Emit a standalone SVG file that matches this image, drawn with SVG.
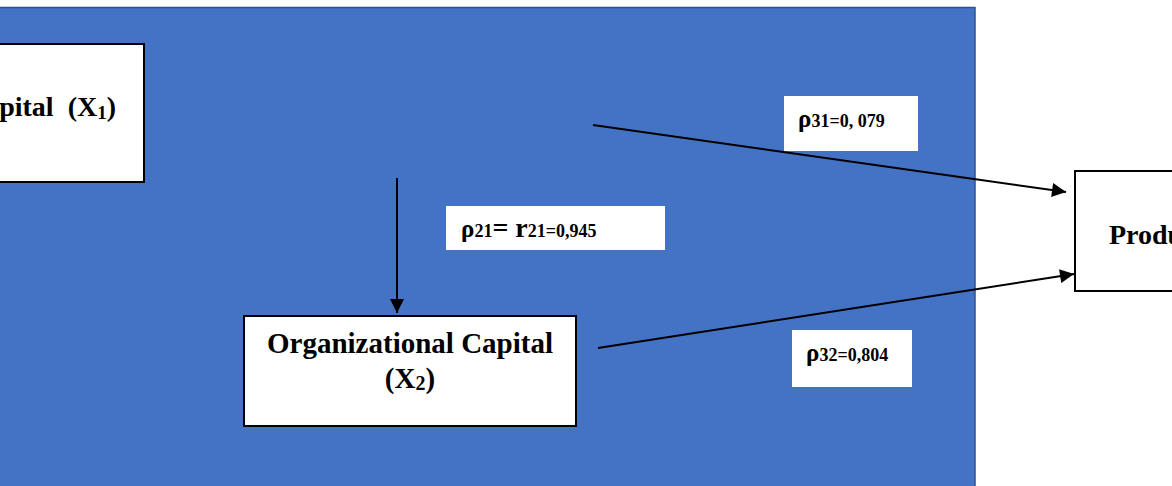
<svg xmlns="http://www.w3.org/2000/svg" width="1172" height="486" viewBox="0 0 1172 486">
  <style>
    .panel { fill: #4472C4; stroke: #2F528F; stroke-width: 1.5; }
    .node { fill: #FFFFFF; stroke: #000000; stroke-width: 2; }
    .tag { fill: #FFFFFF; stroke: none; }
    .t { font-family: "Liberation Serif", "Times New Roman", serif; font-weight: bold; fill: #000000; }
    .sub { font-size: 18px; }
    .edge { stroke: #000000; stroke-width: 2; fill: none; marker-end: url(#head); }
  </style>
  <defs>
    <marker id="head" viewBox="0 0 10 10" refX="10" refY="5" markerWidth="8" markerHeight="7" markerUnits="strokeWidth" orient="auto">
      <path d="M0,0 L10,5 L0,10 Z" fill="#000000"/>
    </marker>
  </defs>

  <!-- background panel -->
  <rect class="panel" x="-10" y="7.5" width="985" height="490"/>

  <g id="connectors">
    <line class="edge" x1="397" y1="178" x2="397" y2="313"/>
    <line class="edge" x1="593" y1="125" x2="1066" y2="192"/>
    <line class="edge" x1="598" y1="348" x2="1074" y2="274"/>
  </g>

  <g id="node-x1">
    <rect class="node" x="-200" y="44" width="344" height="138"/>
    <text class="t" x="116" y="116" font-size="28" text-anchor="end" xml:space="preserve">Human Capital  (X<tspan font-size="19" dy="3">1</tspan><tspan dy="-3">)</tspan></text>
  </g>

  <g id="node-x2">
    <rect class="node" x="244" y="316" width="332" height="110"/>
    <text class="t" x="410" y="353" font-size="29" text-anchor="middle">Organizational Capital</text>
    <text class="t" x="410" y="388" font-size="29" text-anchor="middle">(X<tspan font-size="20" dy="2">2</tspan><tspan dy="-2">)</tspan></text>
  </g>

  <g id="node-y">
    <rect class="node" x="1075" y="171" width="200" height="120"/>
    <text class="t" x="1109" y="244" font-size="28">Productivity (Y)</text>
  </g>

  <g id="label-p31">
    <rect class="tag" x="784" y="96" width="134" height="55"/>
    <text class="t" x="798" y="127" font-size="25">ρ<tspan class="sub">31=0, 079</tspan></text>
  </g>

  <g id="label-p21">
    <rect class="tag" x="446" y="206" width="219" height="44"/>
    <text class="t" x="461" y="237" font-size="25">ρ<tspan class="sub">21</tspan><tspan font-size="28">= r</tspan><tspan class="sub">21=0,945</tspan></text>
  </g>

  <g id="label-p32">
    <rect class="tag" x="792" y="330" width="120" height="57"/>
    <text class="t" x="806" y="361" font-size="25">ρ<tspan class="sub">32=0,804</tspan></text>
  </g>
</svg>
